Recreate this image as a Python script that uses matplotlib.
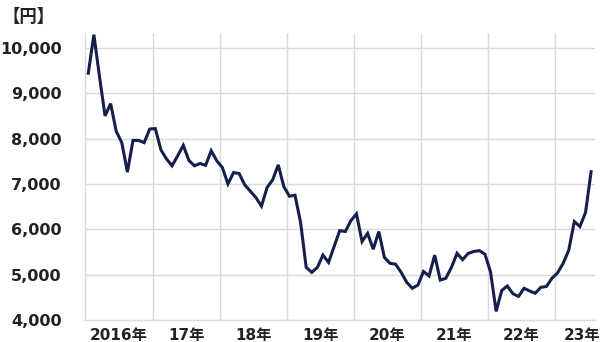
import matplotlib
matplotlib.use("Agg")
import matplotlib.pyplot as plt
import numpy as np

# Monthly prices (yen), Jan 2016 .. Jul 2023
start_year = 2016
prices = [
    9440, 10290, 9370, 8500, 8770, 8160, 7910, 7260, 7960, 7960, 7910, 8210,
    8220, 7750, 7550, 7400, 7620, 7850, 7520, 7400, 7450, 7410, 7730, 7510,
    7360, 7000, 7250, 7230, 6980, 6840, 6700, 6510, 6920, 7090, 7420, 6940,
    6730, 6750, 6150, 5160, 5050, 5160, 5430, 5270, 5620, 5970, 5950, 6190,
    6340, 5730, 5910, 5560, 5950, 5380, 5250, 5230, 5050, 4830, 4700, 4770,
    5070, 4970, 5430, 4880, 4920, 5160, 5470, 5330, 5470, 5510, 5530, 5450,
    5060, 4190, 4650, 4750, 4580, 4520, 4700, 4640, 4590, 4720, 4740, 4920,
    5040, 5250, 5540, 6170, 6060, 6370, 7270,
]
year_labels = ["2016年", "17年", "18年", "19年", "20年", "21年", "22年", "23年"]
label_years = [2016, 2017, 2018, 2019, 2020, 2021, 2022, 2023]
y_ticks = [4000, 5000, 6000, 7000, 8000, 9000, 10000]
unit_label = "【円】"

plt.rcParams['font.family'] = ['DejaVu Sans', 'Noto Sans CJK JP']

t = start_year + (np.arange(len(prices)) + 0.5) / 12.0

fig = plt.figure(figsize=(6.0, 3.42), dpi=100)
ax = fig.add_axes([0.1425, 0.0643, 0.8492, 0.8383])

ax.plot(t, prices, color="#161e4c", lw=2.2, solid_joinstyle="miter", zorder=3)

ax.set_xlim(2016.0, 2023.6)
ax.set_ylim(4000, 10320)

ax.set_yticks(y_ticks)
ax.set_yticklabels([f"{v:,}" for v in y_ticks])

ax.set_xticks(label_years[1:], minor=False)
ax.set_xticklabels([])
label_pos = [y + 0.5 for y in label_years[:-1]] + [2023.4]
ax.set_xticks(label_pos, minor=True)
ax.set_xticklabels(year_labels, minor=True)

ax.grid(True, which="major", color="#dadada", lw=1.0)
ax.set_axisbelow(True)
ax.tick_params(axis="both", which="both", length=0)
ax.tick_params(axis="y", pad=17, labelsize=11.5, labelcolor="#222222")
ax.tick_params(axis="x", which="minor", pad=6, labelsize=11, labelcolor="#222222")
for lbl in ax.get_yticklabels() + ax.get_xticklabels(minor=True):
    lbl.set_fontweight("bold")

for side in ["top", "right"]:
    ax.spines[side].set_visible(False)
for side in ["left", "bottom"]:
    ax.spines[side].set_color("#dadada")
    ax.spines[side].set_linewidth(1.0)

fig.text(0.005, 0.949, unit_label, ha="left", va="center", fontsize=12.5,
         fontweight="bold", color="#222222", family=["Noto Sans CJK JP"])

fig.savefig("out.png", dpi=100)
